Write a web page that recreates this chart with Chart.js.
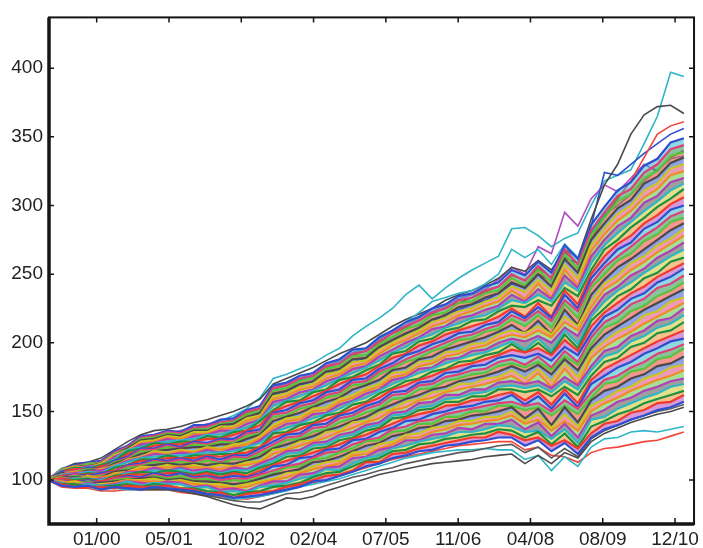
<!DOCTYPE html>
<html>
<head>
<meta charset="utf-8">
<script src="https://cdn.jsdelivr.net/npm/chart.js@4.4.1/dist/chart.umd.min.js"></script>
<style>
  body { margin: 0; background: #fff; }
</style>
</head>
<body>
<canvas id="myChart" width="703" height="548"></canvas>
<script>
// months counted from Jan 2000, one sample every quarter
const months = [-11,-8,-5,-2,1,4,7,10,13,16,19,22,25,28,31,34,37,40,43,46,49,52,55,58,61,64,67,70,73,76,79,82,85,88,91,94,97,100,103,106,109,112,115,118,121,124,127,130,133];

const tickLabels = ['01/00', '05/01', '10/02', '02/04', '07/05', '11/06', '04/08', '08/09', '12/10'];
const yTicks = [100, 150, 200, 250, 300, 350, 400];

// the dense band, bottom to top
const s0 = [100,96,95,96,93,95,94,93,95,94,93,92,90,89,87,88,89,91,93,95,99,100,103,106,110,112,116,118,121,122,125,126,128,129,131,131,125,129,121,127,119,131,137,140,144,147,151,153,157];
const q0 = [100,97,95,95,95,94,96,95,95,96,94,93,90,91,87,90,91,92,95,97,100,103,104,107,113,113,119,120,123,125,127,129,131,131,135,133,129,131,125,129,123,134,141,143,149,151,156,157,162];
const h0 = [100,97,97,95,95,96,97,95,97,96,94,94,92,91,89,91,92,95,96,98,102,105,106,110,114,116,121,122,126,127,130,131,133,134,137,136,131,135,126,134,124,139,143,148,151,156,159,162,165];
const q1 = [100,98,96,97,96,96,99,96,98,97,97,94,95,91,92,91,95,96,98,101,103,108,107,112,116,118,123,125,128,130,132,135,135,137,140,139,135,136,130,137,127,144,146,152,156,160,163,168,170];
const s1 = [100,98,96,98,96,97,99,98,97,99,98,95,96,93,94,92,96,99,99,104,105,109,110,116,117,122,124,129,129,133,134,138,137,141,141,144,137,142,132,141,131,147,151,157,160,165,168,172,174];
const q2 = [100,99,97,98,96,98,100,99,99,98,99,97,96,95,94,95,98,100,102,105,108,110,112,118,119,123,126,131,131,135,137,140,141,143,144,147,141,144,136,143,136,150,156,160,165,169,173,176,180];
const h1 = [101,98,99,97,97,98,100,100,101,99,100,98,97,97,95,97,99,101,105,106,110,113,114,120,121,126,128,133,134,138,139,143,143,146,146,150,143,148,138,148,139,154,159,165,168,174,177,182,184];
const q3 = [101,98,98,98,98,99,100,101,102,100,101,99,99,98,97,98,101,104,106,108,113,114,117,121,125,127,132,134,138,139,143,144,147,148,150,153,145,152,140,153,142,158,165,168,174,177,183,185,190];
const s2 = [100,99,97,99,97,100,101,100,103,101,103,100,101,98,100,99,102,105,109,110,115,116,120,123,128,129,135,136,141,141,146,146,150,150,154,154,151,153,147,154,148,160,170,172,179,181,188,190,196];
const q4 = [100,100,97,99,98,101,102,101,104,102,103,101,102,100,101,101,104,107,110,112,116,120,121,126,129,131,137,139,143,144,148,150,152,154,156,157,154,156,150,158,152,164,173,176,182,186,192,195,199];
const h2 = [100,100,98,100,98,101,103,102,105,103,105,102,103,101,103,102,105,110,111,116,117,122,123,129,130,135,138,143,144,148,150,153,154,157,158,162,155,161,152,163,153,170,176,182,186,192,196,201,203];
const q5 = [100,101,99,100,99,102,104,104,104,105,105,103,105,102,105,103,107,111,114,117,120,123,126,130,133,137,141,145,148,150,154,155,158,159,162,164,158,164,155,166,156,173,181,186,191,196,201,205,209];
const s3 = [100,101,100,101,99,103,104,106,105,107,106,104,106,104,106,105,109,112,117,118,123,124,129,131,136,138,145,146,151,152,157,157,161,161,166,166,164,166,161,168,162,176,186,189,197,200,207,209,215];
const q6 = [100,100,101,101,100,103,105,105,107,106,108,105,107,105,107,107,110,114,119,120,125,126,131,133,138,140,147,148,153,154,159,160,163,164,168,169,167,169,164,172,166,180,190,193,201,205,211,214,220];
const h3 = [99,101,101,100,101,102,106,106,109,107,109,107,108,106,109,108,112,116,121,122,127,128,133,135,140,142,149,150,156,157,162,162,166,166,171,172,170,172,167,175,169,183,194,197,205,209,216,218,225];
const q7 = [100,101,101,102,102,104,106,108,109,109,110,109,109,108,110,111,113,119,122,125,128,131,135,138,142,145,151,153,158,160,164,166,168,170,173,176,170,178,168,181,170,189,197,203,208,214,219,224,229];
const s4 = [100,102,100,103,101,105,106,110,109,111,109,111,109,111,110,113,114,122,123,128,129,135,136,142,143,149,152,157,159,164,165,170,170,174,175,180,174,181,172,185,175,193,201,208,212,220,223,230,233];
const q8 = [100,102,102,102,102,106,107,110,111,112,111,112,111,112,112,114,117,123,126,129,132,136,139,143,146,151,155,159,162,166,168,172,174,176,179,183,179,184,177,188,180,196,206,212,218,224,229,234,239];
const h4 = [101,101,103,102,103,105,109,110,113,112,113,112,114,112,115,115,119,124,129,130,135,137,142,145,149,152,159,160,166,167,172,174,177,178,183,185,182,186,180,190,184,199,211,215,223,227,234,238,244];
const q9 = [101,101,104,102,104,106,110,111,114,113,115,113,116,113,117,116,121,126,131,132,138,139,145,147,152,155,162,163,169,170,175,177,180,181,186,188,184,190,182,194,186,204,215,220,228,232,240,243,249];
const s5 = [100,102,104,103,105,106,111,112,115,114,116,114,117,115,118,118,123,128,133,134,140,141,147,149,154,157,164,165,171,172,178,179,183,184,189,191,189,192,187,197,191,207,219,224,232,236,244,248,254];
const q10 = [100,103,104,104,105,107,111,114,114,116,116,116,118,117,119,120,124,131,134,137,141,144,148,152,156,160,166,169,173,176,180,183,185,188,191,195,193,196,191,202,194,212,222,229,236,241,248,253,258];
const h5 = [100,103,103,105,104,109,111,115,115,118,116,118,118,119,119,123,124,134,135,140,142,147,149,155,157,163,167,172,174,179,181,186,187,191,193,199,193,200,192,206,196,216,225,234,239,247,251,259,262];
const q11 = [100,104,104,106,105,110,113,116,117,118,118,119,120,120,121,124,127,135,138,141,145,148,152,157,160,165,170,174,178,181,185,188,191,193,197,201,195,203,194,209,199,219,230,238,244,251,257,263,268];
const s6 = [100,104,105,106,107,110,114,116,119,118,120,119,122,120,123,124,129,136,141,142,148,149,155,158,163,166,173,175,181,182,188,189,194,195,200,203,201,205,200,211,205,222,235,241,249,254,262,267,273];
const q12 = [100,104,106,106,107,111,114,117,120,119,121,120,123,122,124,126,130,138,143,144,150,151,157,160,165,168,175,177,183,185,190,192,196,198,203,206,204,209,204,215,209,226,239,245,253,259,266,272,278];
const h6 = [101,104,106,105,108,110,115,117,121,120,122,121,124,123,126,127,132,140,145,146,152,153,159,162,167,170,178,179,186,187,193,194,199,200,206,209,207,212,206,219,212,230,243,249,258,263,271,276,283];
const q13 = [101,105,105,107,107,112,115,119,121,122,123,124,124,126,126,130,133,143,146,149,153,157,160,166,169,173,180,182,188,190,195,198,201,204,208,213,207,216,206,224,213,235,246,255,261,268,275,282,287];
const s7 = [100,105,106,108,107,113,115,121,121,124,122,126,125,128,127,132,134,146,147,152,154,160,162,169,170,177,181,186,189,194,197,202,203,208,210,217,212,220,211,228,218,240,250,260,265,274,279,288,291];
const q14 = [100,105,107,108,108,113,116,122,122,125,123,127,126,129,128,134,135,148,149,154,156,162,164,171,172,179,183,188,192,196,200,204,206,210,213,220,216,223,216,231,223,243,255,263,270,278,284,292,296];
const h7 = [100,106,106,109,108,114,117,123,123,126,124,128,127,130,130,135,137,149,151,156,158,164,166,173,174,181,185,191,194,199,202,207,208,213,215,223,218,226,218,235,225,247,258,268,273,283,288,297,300];
const q15 = [100,106,108,108,110,113,119,122,125,126,126,128,130,130,133,136,140,150,154,157,161,165,170,174,177,183,189,192,198,201,206,209,212,215,219,225,219,229,219,238,228,250,263,272,278,287,293,301,306];
const s8 = [100,106,109,108,111,114,121,123,127,126,128,128,132,131,135,136,143,151,157,158,164,166,173,175,180,184,192,194,201,203,209,211,216,217,223,227,226,231,227,240,234,253,268,275,284,291,299,305,312];
const q16 = [100,107,108,109,111,115,122,124,127,128,129,130,133,133,136,138,144,154,158,161,165,169,174,178,182,187,193,197,203,206,211,214,218,220,225,231,229,235,230,244,238,258,271,280,288,296,303,311,316];
const h8 = [101,107,108,110,110,117,121,126,127,130,128,132,133,136,136,141,144,157,159,164,166,172,175,181,183,190,195,200,204,210,212,218,220,224,227,235,230,239,232,249,240,263,275,285,291,302,307,317,320];
const q17 = [101,107,109,110,111,117,122,127,128,131,130,133,134,137,138,143,146,159,161,166,168,174,177,183,185,192,198,202,207,212,215,220,223,227,230,238,232,243,233,253,242,267,279,289,296,306,312,322,325];
const s9 = [100,107,110,109,112,118,122,128,129,132,131,135,135,139,139,145,147,161,163,168,170,177,179,186,187,195,200,205,209,215,218,223,225,230,233,241,237,246,238,257,247,271,283,294,300,311,316,327,330];
const q18 = [100,107,110,110,112,118,123,129,130,133,132,136,136,140,141,146,149,163,165,170,172,179,181,188,189,197,202,207,211,217,220,226,228,233,236,244,240,250,241,261,251,275,287,298,304,316,321,331,335];
const h9 = [100,108,109,112,112,119,123,130,131,134,133,137,137,141,142,148,150,165,167,172,174,181,183,190,191,199,204,210,213,220,222,229,230,236,238,247,242,253,244,264,254,278,291,303,308,320,325,336,339];
const q19 = [100,108,110,112,113,120,124,131,132,135,134,138,139,142,143,150,152,167,169,174,176,183,185,192,194,201,207,212,216,222,225,231,233,238,241,250,245,256,247,268,257,282,295,307,312,324,330,341,344];
const s10 = [100,108,111,113,114,121,125,132,133,136,135,140,140,144,145,151,154,169,171,176,178,185,188,195,196,204,209,215,219,225,228,234,236,241,244,253,249,259,251,271,261,286,299,311,317,329,334,346,349];

// lines that leave the band
const cyanTop = [100,104,106,107,109,114,120,125,129,131,134,137,140,143,147,152,160,174,177,181,185,191,196,205,212,218,225,235,242,232,240,247,253,258,263,283,284,278,270,276,280,300,318,322,326,345,365,397,394];
const cyanHigh = [100,101,104,106,107,112,117,121,125,127,129,133,136,139,142,147,153,166,170,173,176,181,186,192,196,203,209,215,222,230,233,236,238,243,250,268,262,268,257,272,262,280,293,300,308,318,326,334,336];
const greyTop = [100,108,112,113,116,122,128,133,136,137,139,142,144,147,150,154,159,170,174,178,182,187,192,196,200,206,212,217,221,225,231,235,238,242,247,255,252,260,253,268,262,290,315,330,352,366,372,373,367];
const redTop = [100,107,110,112,113,119,125,129,133,134,134,138,139,142,144,149,153,166,169,173,176,182,186,191,194,200,207,211,217,221,226,229,233,237,241,249,246,254,248,266,258,275,292,305,318,335,352,358,361];
const blueTop = [100,106,109,111,111,117,122,127,131,130,132,134,137,138,141,145,149,162,165,169,172,177,181,186,189,196,202,206,211,215,221,224,228,231,236,243,240,250,245,262,258,285,324,322,330,338,345,352,356];
const purpleTop = [100,107,110,111,113,119,124,130,133,134,136,138,141,142,145,149,154,167,171,174,178,183,187,193,196,202,208,213,218,223,227,232,235,239,246,255,250,270,265,295,285,305,315,310,320,330,325,335,340];
const greyLow = [100,97,96,96,94,95,94,93,93,93,92,90,88,85,82,80,79,83,87,86,88,92,95,98,101,104,106,108,110,112,113,114,115,117,118,119,112,118,112,120,116,128,134,138,142,145,148,150,153];
const greyLow2 = [100,97,96,97,95,96,95,94,94,94,93,91,89,87,85,84,84,87,90,91,93,96,99,102,104,107,109,112,114,116,118,120,121,123,125,126,120,124,116,123,117,130,136,140,144,147,150,152,155];
const cyanLow = [100,96,95,95,93,94,93,93,94,93,92,91,89,87,86,87,88,90,92,95,97,99,101,104,107,110,113,116,118,120,121,122,122,123,122,122,115,118,107,117,110,124,130,131,135,136,135,137,139];
const redLow = [100,95,94,94,92,92,93,93,93,93,91,90,89,88,87,86,88,90,93,96,98,100,103,106,109,112,115,117,119,121,123,125,126,127,128,128,122,124,118,117,113,120,123,124,126,128,129,132,135];

const band = [s0, q0, h0, q1, s1, q2, h1, q3, s2, q4, h2, q5, s3, q6, h3, q7, s4, q8, h4, q9, s5,
              q10, h5, q11, s6, q12, h6, q13, s7, q14, h7, q15, s8, q16, h8, q17, s9, q18, h9, q19, s10];
const outliers = [
    [greyLow, '#4a4a4a'], [greyLow2, '#5a5a5a'], [cyanLow, '#2fb5c8'], [redLow, '#f0463a'],
    [cyanHigh, '#2fb5c8'], [greyTop, '#4a4a4a'], [redTop, '#f0463a'], [blueTop, '#2f4fd0'],
    [purpleTop, '#b04cc0'], [cyanTop, '#2fb5c8']
];

const palette = ['#2f4fd0', '#f03a2e', '#1e9040', '#2fb5c8', '#b040b8', '#f08c28', '#c9c71f', '#4a4a4a', '#58c43c', '#e0407a'];

function points(vals) {
    return vals.map((v, i) => ({ x: months[i], y: v }));
}

const datasets = band.map((vals, i) => ({
    data: points(vals),
    borderColor: palette[i % palette.length],
    backgroundColor: palette[(i + 3) % palette.length] + '88',
    fill: i === 0 ? false : '-1',
    borderWidth: 2.2
}));
outliers.forEach(([vals, color]) => {
    datasets.push({ data: points(vals), borderColor: color, fill: false, borderWidth: 1.6 });
});

// matlab style box with inward ticks
const boxPlugin = {
    id: 'box',
    afterDraw(chart) {
        const { ctx, chartArea: a, scales: { x, y } } = chart;
        ctx.save();
        ctx.strokeStyle = '#151515';
        ctx.lineWidth = 2;
        ctx.strokeRect(a.left, a.top, a.right - a.left, a.bottom - a.top);
        ctx.lineWidth = 3.5;
        ctx.beginPath();
        ctx.moveTo(a.left, a.top);
        ctx.lineTo(a.left, a.bottom);
        ctx.lineTo(a.right, a.bottom);
        ctx.stroke();
        ctx.lineWidth = 1.5;
        ctx.beginPath();
        x.ticks.forEach(t => {
            const px = x.getPixelForValue(t.value);
            ctx.moveTo(px, a.bottom); ctx.lineTo(px, a.bottom - 6);
            ctx.moveTo(px, a.top); ctx.lineTo(px, a.top + 5);
        });
        y.ticks.forEach(t => {
            const py = y.getPixelForValue(t.value);
            ctx.moveTo(a.left, py); ctx.lineTo(a.left + 5, py);
            ctx.moveTo(a.right, py); ctx.lineTo(a.right - 5, py);
        });
        ctx.stroke();
        ctx.restore();
    }
};

const ctx = document.getElementById('myChart').getContext('2d');

const myChart = new Chart(ctx, {
    type: 'line',
    data: { datasets: datasets },
    options: {
        responsive: false,
        animation: false,
        parsing: false,
        elements: { point: { radius: 0 }, line: { tension: 0 } },
        layout: { padding: { top: 15, right: 6, left: 0, bottom: 0 } },
        plugins: { legend: { display: false }, tooltip: { enabled: false } },
        scales: {
            x: {
                type: 'linear',
                min: -10.8,
                max: 135.3,
                grid: { display: false, drawTicks: false },
                border: { display: false },
                afterBuildTicks: (scale) => {
                    const n = tickLabels.length;
                    scale.ticks = tickLabels.map((l, i) => ({ value: i * 131 / (n - 1) }));
                },
                afterFit: (scale) => { scale.height = 24; },
                ticks: {
                    autoSkip: false,
                    maxRotation: 0,
                    padding: 4,
                    color: '#222',
                    font: { family: 'Liberation Sans, Arial, sans-serif', size: 19 },
                    callback: (v, i) => tickLabels[i]
                }
            },
            y: {
                min: 68,
                max: 437,
                grid: { display: false, drawTicks: false },
                border: { display: false },
                afterBuildTicks: (scale) => {
                    scale.ticks = yTicks.map(v => ({ value: v }));
                },
                afterFit: (scale) => { scale.width = 49; },
                ticks: {
                    padding: 6,
                    color: '#222',
                    font: { family: 'Liberation Sans, Arial, sans-serif', size: 19 }
                }
            }
        }
    },
    plugins: [boxPlugin]
});
</script>
</body>
</html>
